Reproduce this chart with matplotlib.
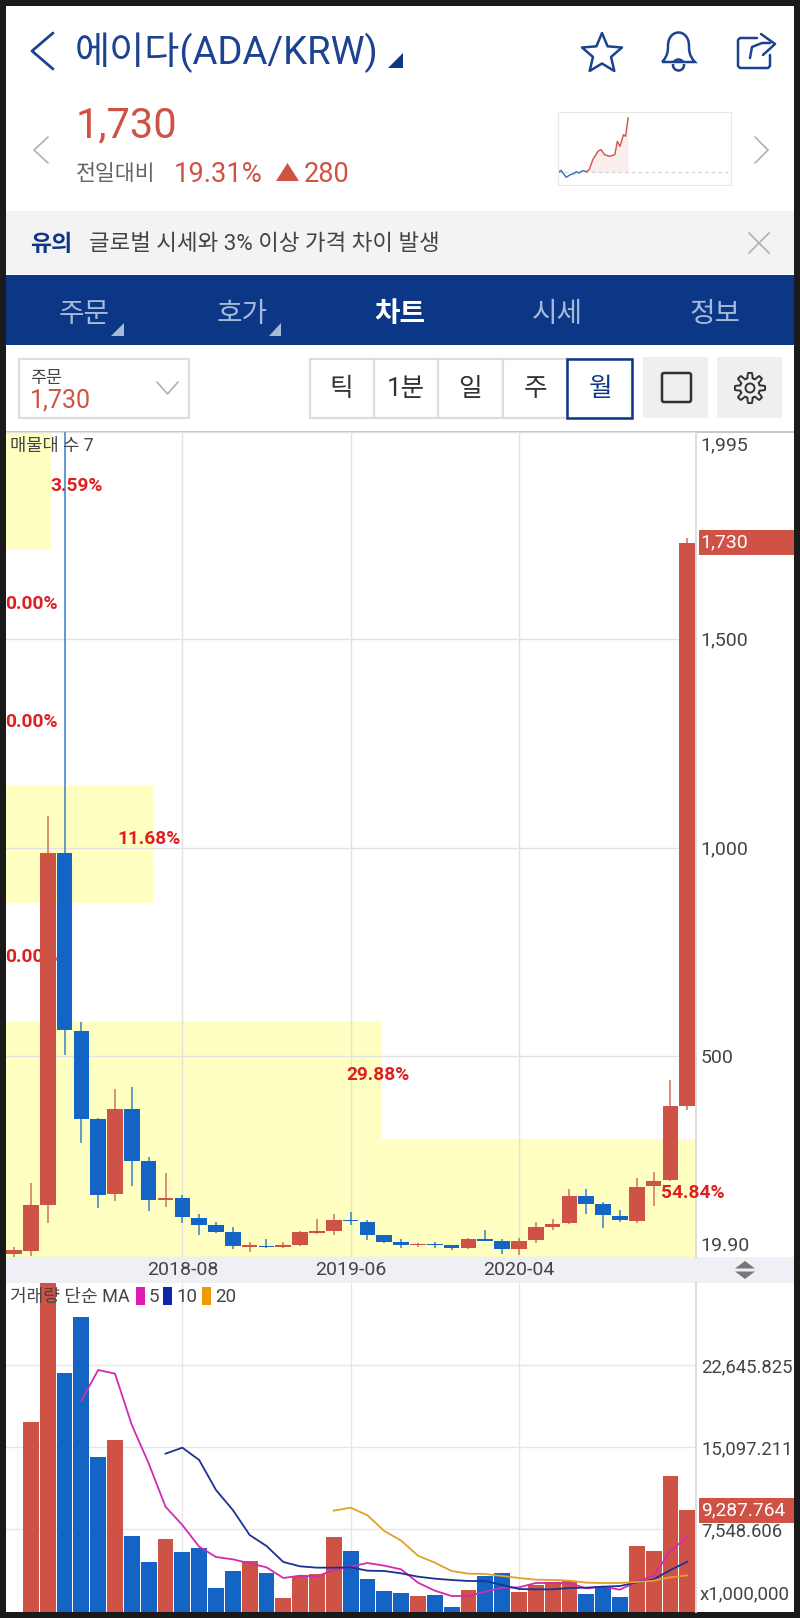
import numpy as np
import matplotlib
matplotlib.use('Agg')
import matplotlib.pyplot as plt
from matplotlib.patches import Rectangle, Polygon, Circle, PathPatch, FancyBboxPatch
from matplotlib.path import Path
from matplotlib.transforms import ScaledTranslation

plt.rcParams['font.family'] = ['Roboto', 'Noto Sans CJK KR', 'DejaVu Sans']

# monthly candles, 2017-10 .. 2020-10
opens = [26.3, 34.3, 145.2, 987.2, 560.6, 349.3, 169.9, 373.2, 248.8, 155.5, 162.0, 114.0, 95.7, 79.8, 44.7,
         46.3, 43.9, 49.5, 78.2, 82.2, 109.3, 103.7, 72.6, 55.9, 48.7, 51.1, 47.9, 40.7, 62.2, 59.0,
         39.1, 59.9, 91.7, 101.3, 165.9, 146.0, 118.0, 106.9, 189.0, 203.4, 382.0]
closes = [36.7, 144.4, 986.4, 563.0, 349.3, 168.3, 373.2, 248.8, 155.5, 161.9, 115.7, 96.5, 80.6, 45.5, 48.7,
          43.9, 47.9, 79.8, 83.0, 108.5, 105.3, 73.4, 55.8, 47.9, 51.1, 48.7, 40.7, 63.0, 59.0, 39.1,
          58.3, 91.0, 99.7, 165.9, 146.0, 119.7, 107.7, 188.2, 201.0, 380.4, 1730.0]
highs = [43.9, 196.2, 1076.5, 1995.0, 582.0, 352.0, 421.0, 425.8, 259.2, 220.1, 167.5, 122.0, 102.9, 92.5, 55.0,
         62.2, 55.8, 83.0, 111.7, 122.0, 126.8, 107.7, 73.4, 62.2, 54.3, 55.9, 48.7, 66.2, 84.6, 63.8,
         66.2, 104.5, 110.0, 183.5, 181.9, 152.4, 132.4, 208.2, 223.3, 442.6, 1742.0]
lows = [20.8, 22.4, 102.1, 503.0, 291.9, 136.4, 153.1, 189.8, 130.0, 139.6, 101.3, 71.8, 77.4, 39.1, 32.0,
        42.3, 41.5, 46.3, 75.8, 71.8, 97.3, 59.8, 53.5, 42.3, 44.7, 40.7, 35.9, 38.3, 57.5, 28.0,
        24.0, 53.5, 84.6, 99.7, 122.0, 89.4, 103.7, 101.3, 142.0, 201.8, 372.4]
rising = [1, 1, 1, 0, 0, 0, 1, 0, 0, 1, 0, 0, 0, 0, 1, 0, 1, 1, 1, 1, 0, 0, 0, 0, 1, 0, 0, 1, 0, 0,
          1, 1, 1, 1, 0, 0, 0, 1, 1, 1, 1]

volume = [0, 17377, 30194, 21909, 27084, 14192, 15785, 6966, 4578, 6660, 5466, 5864, 2189, 3720, 4639,
          3506, 1240, 3261, 3414, 6844, 5588, 3016, 1883, 1669, 1454, 1516, 444, 1975, 3292, 3506,
          1791, 2434, 2740, 2832, 1577, 2220, 1301, 6017, 5588, 12417, 9287.764]
ma5 = [19367, 22184, 21847, 17132, 13611, 9630, 7946, 5956, 5006, 4792, 4425, 4057, 3077, 3292, 3230, 3812,
       4118, 4455, 4210, 3873, 2649, 1914, 1424, 1424, 1822, 2189, 2220, 2618, 2618, 2587, 2128, 2281,
       2006, 2740, 3292, 5558, 6874]
ma10 = [14499, 15050, 13917, 11161, 9324, 7027, 6017, 4547, 4149, 4027, 4027, 4057, 3751, 3720, 3506, 3200,
        3016, 2894, 2802, 2802, 2434, 2067, 2036, 2036, 2159, 2189, 2281, 2342, 2679, 2955, 3812, 4578]
ma20 = [9262, 9538, 8834, 7395, 6507, 5129, 4486, 3720, 3475, 3445, 3261, 3077, 2924, 2894, 2832, 2649,
        2618, 2618, 2710, 2832, 3139, 3322]

profile_pct = [54.84, 29.88, 0.00, 11.68, 0.00, 0.00, 3.59]
date_pos = [10, 20, 30]
date_labels = ['2018-08', '2019-06', '2020-04']
price_ticks = [19.9, 500, 1000, 1500, 1995]
price_labels = ['19.90', '500', '1,000', '1,500', '1,995']
vol_ticks = [7548.606, 15097.211, 22645.825]
vol_labels = ['7,548.606', '15,097.211', '22,645.825']

spark_x = [1, 6, 16, 24, 31, 36, 41, 48, 56, 61, 68, 78, 84, 91, 101, 111, 116, 121, 128, 132, 137]
spark_y = [38, 44, 23, 31, 34, 40, 36, 43, 40, 46, 76, 101, 106, 91, 86, 91, 131, 116, 151, 146, 201]

RED = '#cf5246'
BLUE = '#1464c6'
NAVY = '#0c3787'
TITLE = '#1c4290'

W, H = 800, 1618
fig = plt.figure(figsize=(W / 100, H / 100), dpi=100, facecolor='#1a1a1a')


def px_axes(l, t, r, b, **kw):
    return fig.add_axes([l / W, 1 - b / H, (r - l) / W, (b - t) / H], **kw)


# page furniture, in pixels
ui = px_axes(0, 0, W, H, zorder=0)
ui.set_xlim(0, W)
ui.set_ylim(H, 0)
ui.axis('off')


def box(x0, y0, x1, y1, fc='none', ec='none', lw=0, z=1):
    ui.add_patch(Rectangle((x0, y0), x1 - x0, y1 - y0, fc=fc, ec=ec, lw=lw, zorder=z))


def txt(x, y, s, size, color, ha='left', **kw):
    ui.text(x, y, s, fontsize=size, color=color, ha=ha, va='center', zorder=5, **kw)


def stroke(pts, color, lw, closed=False, fc='none', z=4):
    ui.add_patch(Polygon(pts, closed=closed, fc=fc, ec=color, lw=lw, joinstyle='round', capstyle='round', zorder=z))


box(6, 6, 794, 1612, fc='white')

# header
stroke([(53, 33), (32, 51), (53, 69)], TITLE, 2.0)
txt(75, 53, '에이다(ADA/KRW)', 27.5, TITLE)
ui.add_patch(Polygon([(403, 53), (403, 68), (388, 68)], fc=NAVY, zorder=4))
ang = np.pi / 2 + np.arange(10) * np.pi / 5
rad = np.where(np.arange(10) % 2 == 0, 21, 9.5)
stroke(np.c_[602 + rad * np.cos(ang), 54 - rad * np.sin(ang)], TITLE, 1.8, closed=True)
bell = Path([(662, 62), (668, 56), (668, 50), (668, 46), (668, 28), (689, 28), (689, 46), (689, 50), (689, 56), (695, 62), (662, 62)],
            [Path.MOVETO, Path.CURVE4, Path.CURVE4, Path.CURVE4, Path.CURVE4, Path.CURVE4, Path.CURVE4, Path.CURVE4, Path.CURVE4, Path.CURVE4, Path.LINETO])
ui.add_patch(PathPatch(bell, fc='none', ec=TITLE, lw=1.8, zorder=4))
ui.add_patch(Circle((678.5, 65), 5.5, fc='none', ec=TITLE, lw=1.8, zorder=3))
box(670, 62.5, 687, 64, fc='white', z=3.5)
stroke([(757, 38), (740, 38), (738, 40), (738, 66), (740, 68), (768, 68), (770, 66), (770, 55)], TITLE, 1.8)
stroke([(750, 58), (752, 47), (762, 43), (770, 43)], TITLE, 1.8)
stroke([(761, 34), (775, 44), (763, 55)], TITLE, 1.8)

# price line
stroke([(48, 137), (34, 150), (48, 163)], '#b5b5b5', 1.3)
stroke([(755, 137), (768, 150), (755, 163)], '#b5b5b5', 1.3)
txt(76, 126, '1,730', 30, RED)
txt(76, 174, '전일대비', 15.6, '#666666')
txt(174, 174, '19.31%', 19.7, RED)
ui.add_patch(Polygon([(287.5, 163), (299, 181), (276, 181)], fc=RED, zorder=4))
txt(304, 174, '280', 19.5, RED)

# small chart in the header
sp = px_axes(558, 112, 731, 185, zorder=1)
sp.set_xlim(0, 338)
sp.set_ylim(0, 219)
sp.set_xticks([])
sp.set_yticks([])
for s in sp.spines.values():
    s.set_color('#e8e8e8')
sp.axhline(39, color='#d0d0d0', lw=0.8, ls=(0, (3, 3)))
sp.fill_between(spark_x[8:], 39, spark_y[8:], color=RED, alpha=0.1, lw=0)
sp.plot(spark_x[:9], spark_y[:9], color='#2f6fb5', lw=1)
sp.plot(spark_x[8:], spark_y[8:], color=RED, lw=1)

# notice strip
box(6, 211, 794, 274, fc='#f3f3f3')
txt(30, 244, '유의', 16.5, NAVY, fontweight='bold')
txt(89, 244, '글로벌 시세와 3% 이상 가격 차이 발생', 16.1, '#444444')
ui.plot([749, 769], [233, 253], color='#b0b0b0', lw=1.2, zorder=4)
ui.plot([769, 749], [233, 253], color='#b0b0b0', lw=1.2, zorder=4)

# tabs
box(6, 275, 794, 345, fc=NAVY)
for cx, name in zip([84, 242, 557, 715], ['주문', '호가', '시세', '정보']):
    txt(cx, 314, name, 20, '#a6bad9', ha='center')
txt(399.5, 314, '차트', 20, 'white', ha='center', fontweight='bold')
for rx in (123.5, 281):
    ui.add_patch(Polygon([(rx, 323), (rx, 336), (rx - 12.5, 336)], fc='#a6bad9', zorder=4))

# controls
box(18.5, 358.5, 189, 418, fc='white', ec='#dddddd', lw=1.6)
txt(30, 378, '주문', 12.5, '#444444')
txt(30, 400, '1,730', 18, RED)
stroke([(157, 382), (167.5, 394), (178, 382)], '#b0b0b0', 1.2)
edges = [310, 374, 438, 503, 567, 632]
for i, name in enumerate(['틱', '1분', '일', '주', '월']):
    box(edges[i], 358.5, edges[i + 1], 418, fc='white', ec='#dddddd', lw=1.6)
    txt((edges[i] + edges[i + 1]) / 2 + i * 0.5 - 1, 389, name, 18.5, NAVY if name == '월' else '#333333', ha='center')
box(567, 358.5, 632, 418, ec=NAVY, lw=1.8, z=2)
box(643, 357, 708, 418, fc='#efefef')
ui.add_patch(FancyBboxPatch((662, 373), 29, 29, boxstyle='round,pad=0,rounding_size=2', fc='none', ec='#333333', lw=1.8, zorder=4))
box(717, 357, 782, 418, fc='#efefef')
th = np.linspace(0, 2 * np.pi, 97)[:-1]
gr = 12.5 + 2.6 * np.clip(2.2 * np.cos(8 * th), -1, 1)
stroke(np.c_[750 + gr * np.cos(th), 388 + gr * np.sin(th)], '#333333', 1.4, closed=True)
ui.add_patch(Circle((750, 388), 4.5, fc='none', ec='#333333', lw=1.4, zorder=4))
box(6, 430.5, 794, 432.5, fc='#c8c8c8')

# date strip
box(6, 1257, 794, 1283, fc='#eef0f5')
ui.add_patch(Polygon([(745, 1261), (755, 1268.5), (735, 1268.5)], fc='#777777', zorder=4))
ui.add_patch(Polygon([(745, 1279), (755, 1271.5), (735, 1271.5)], fc='#777777', zorder=4))

# volume profile behind the candles
edges_p = np.linspace(19.9, 1995, 8)
pf = px_axes(5.6, 432, 695.7, 1257, zorder=1)
pf.set_xlim(0, max(profile_pct))
pf.set_ylim(19.9, 1995)
pf.axis('off')
pf.barh(edges_p[:-1], profile_pct, height=np.diff(edges_p), align='edge', color='#ffffc2')

# candles
idx = np.arange(len(opens))
cols = [RED if r else BLUE for r in rising]
bottoms = np.minimum(opens, closes)
heights = np.abs(np.array(closes) - np.array(opens))

ax = px_axes(5.6, 432, 695.7, 1257, zorder=2)
ax.patch.set_alpha(0)
ax.vlines(idx, lows, highs, colors=['#d0705f' if r else '#3a7fc4' for r in rising], lw=1.1, zorder=3)
ax.bar(idx, heights, bottom=bottoms, width=0.93, color=cols, zorder=4)
ax.set_xlim(-0.5, 40.5)
ax.set_ylim(19.9, 1995)
ax.set_xticks(date_pos)
ax.set_xticklabels(date_labels)
ax.set_yticks(price_ticks)
ax.set_yticklabels(price_labels)
ax.yaxis.tick_right()
ax.tick_params(length=0, labelsize=14, labelcolor='#444444')
ax.tick_params(axis='x', pad=3)
ax.tick_params(axis='y', pad=3.5)
ylabs = ax.get_yticklabels()
ylabs[0].set_verticalalignment('bottom')
ylabs[-1].set_verticalalignment('top')
ylabs[-1].set_transform(ylabs[-1].get_transform() + ScaledTranslation(0, -4 / 100, fig.dpi_scale_trans))
ylabs[0].set_transform(ylabs[0].get_transform() + ScaledTranslation(0, 2 / 100, fig.dpi_scale_trans))
ax.grid(True, color='#e2e2e2', lw=1, zorder=1)
ax.set_axisbelow(True)
for s in ['top', 'left', 'bottom']:
    ax.spines[s].set_visible(False)
ax.spines['right'].set_color('#dddddd')
ax.spines['right'].set_linewidth(1.4)
ax.text(0.007, 1 - 14 / 825, '매물대 수 7', transform=ax.transAxes, fontsize=12.7, color='#444444', va='center', zorder=6)
ax.add_patch(Rectangle((1.0047, 1730 - 30), 95 / 690.1, 60, transform=ax.get_yaxis_transform(), fc=RED, clip_on=False, zorder=6))
ax.text(1.0072, 1730, '1,730', transform=ax.get_yaxis_transform(), fontsize=14, color='white', va='center', clip_on=False, zorder=7)

# profile labels sit over the axis line but under the candles
for pct, lo, hi in zip(profile_pct, edges_p[:-1], edges_p[1:]):
    dx = -35 if pct > 10 else 0
    ax.annotate('%.2f%%' % pct, (pct / max(profile_pct), (lo + hi) / 2), xycoords=ax.get_yaxis_transform(),
                xytext=(dx * 0.72, 3.6), textcoords='offset points', ha='left', va='center', fontsize=13.8,
                fontweight='bold', color='#e01f1f', annotation_clip=False, zorder=2.8)

# volume panel
vx = px_axes(5.6, 1282.8, 695.7, 1611.5, zorder=2)
vx.bar(idx, volume, width=0.94, color=cols, zorder=3)
vx.plot(idx[4:], ma5, color='#d22bb2', lw=1.3, zorder=4)
vx.plot(idx[9:], ma10, color='#1c3192', lw=1.3, zorder=4)
vx.plot(idx[19:], ma20, color='#e3a02a', lw=1.3, zorder=4)
vx.set_xlim(-0.5, 40.5)
vx.set_ylim(0, 30194.4)
vx.set_xticks(date_pos)
vx.set_xticklabels([])
vx.set_yticks(vol_ticks)
vx.set_yticklabels(vol_labels)
vx.yaxis.tick_right()
vx.tick_params(length=0, labelsize=13.3, labelcolor='#444444')
vx.tick_params(axis='y', pad=4)
vx.grid(True, color='#e6e6e6', lw=1, zorder=1)
vx.set_axisbelow(True)
for s in ['top', 'left', 'bottom']:
    vx.spines[s].set_visible(False)
vx.spines['right'].set_color('#dddddd')
vx.spines['right'].set_linewidth(1.4)
vx.text(1.006, 0.051, 'x1,000,000', transform=vx.transAxes, fontsize=13.5, color='#444444', va='center', clip_on=False)
vx.add_patch(Rectangle((1.0047, 9287.764 - 1150), 95 / 690.1, 2300, transform=vx.get_yaxis_transform(), fc=RED, clip_on=False, zorder=6))
vx.text(1.0072, 9287.764, '9,287.764', transform=vx.get_yaxis_transform(), fontsize=13.8, color='white', va='center', clip_on=False, zorder=7)

# legend row
vx.text(0.007, 1 - 14.5 / 328.7, '거래량 단순 MA', transform=vx.transAxes, fontsize=13, color='#444444', va='center', zorder=6)
for x0, c, lab in zip([136, 163, 202], ['#e01cb0', '#1026a8', '#ee9b00'], ['5', '10', '20']):
    vx.add_patch(Rectangle(((x0 - 5.6) / 690.1, 1 - 22.5 / 328.7), 9 / 690.1, 18 / 328.7, transform=vx.transAxes, fc=c, zorder=6))
    vx.text((x0 + 13 - 5.6) / 690.1, 1 - 14 / 328.7, lab, transform=vx.transAxes, fontsize=13.5, color='#444444', va='center', zorder=6)

fig.savefig('out.png', dpi=100, facecolor=fig.get_facecolor())
